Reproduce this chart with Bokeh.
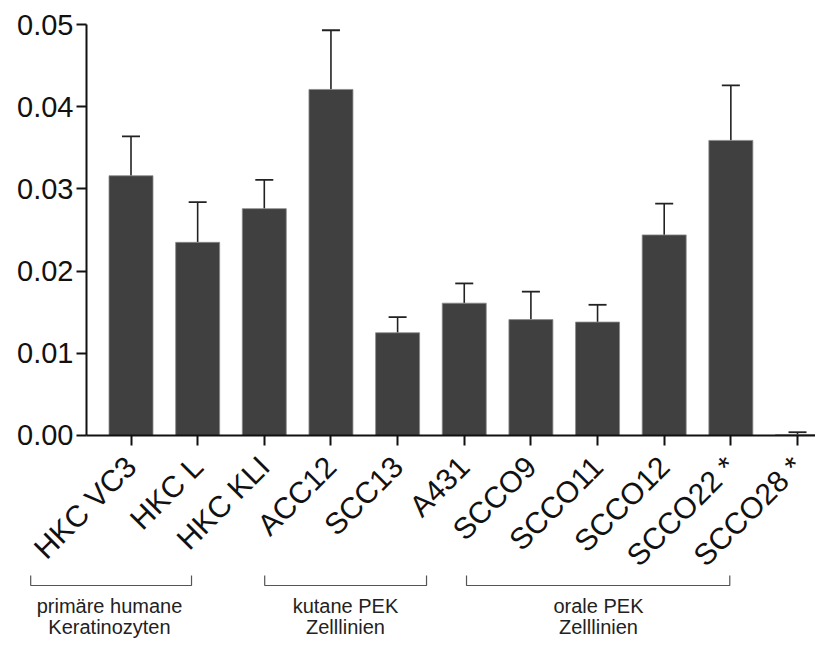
import math
from bokeh.plotting import figure
from bokeh.models import (ColumnDataSource, Range1d, FixedTicker, PrintfTickFormatter,
                          Whisker, TeeHead)
from bokeh.core.properties import value
from bokeh.embed import file_html
from bokeh.resources import INLINE

# ---- data ----
categories = ["HKC VC3", "HKC L", "HKC KLI", "ACC12", "SCC13", "A431",
              "SCCO9", "SCCO11", "SCCO12", "SCCO22 *", "SCCO28 *"]
means = [0.0316, 0.0235, 0.0276, 0.0421, 0.0125, 0.0161,
         0.0141, 0.0138, 0.0244, 0.0359, 0.0001]
errors = [0.0048, 0.0049, 0.0035, 0.0072, 0.0019, 0.0024,
          0.0034, 0.0021, 0.0038, 0.0067, 0.0003]
y_ticks = [0.0, 0.01, 0.02, 0.03, 0.04, 0.05]
group_line1 = ["primäre humane", "kutane PEK", "orale PEK"]
group_line2 = ["Keratinozyten", "Zelllinien", "Zelllinien"]

# ---- layout (positions in axis units) ----
bracket_left = [-1.505, 2.006, 5.034]
bracket_right = [0.908, 4.434, 8.984]
group_center = [-0.323, 3.218, 7.014]
bracket_top = -0.017032
bracket_bottom = -0.018248
text_y1 = -0.020803
text_y2 = -0.023358

FONT = value("Liberation Sans")

xs = list(range(len(categories)))
src = ColumnDataSource(dict(
    x=xs, mean=means,
    upper=[m + e for m, e in zip(means, errors)],
))

p = figure(width=815, height=639, output_backend="svg", toolbar_location=None,
           x_range=Range1d(-1.958, 10.270), y_range=Range1d(-0.024818, 0.052920),
           min_border=0, min_border_left=0, min_border_right=0,
           min_border_top=0, min_border_bottom=0)
p.outline_line_color = None
p.xgrid.visible = False
p.ygrid.visible = False
p.background_fill_color = "white"

p.vbar(x="x", top="mean", bottom=0, width=0.66, source=src,
       fill_color="#404040", line_color="#8a8a8a", line_width=0.8)

wh = Whisker(source=src, base="x", lower="mean", upper="upper", dimension="height",
             line_color="#222222", line_width=1.6,
             upper_head=TeeHead(size=18, line_color="#222222", line_width=1.8),
             lower_head=None)
p.add_layout(wh)

# x axis
xa = p.xaxis[0]
xa.fixed_location = 0
xa.bounds = (-0.6677, 10.39)
xa.ticker = FixedTicker(ticks=xs)
xa.major_label_overrides = {i: c for i, c in enumerate(categories)}
xa.major_label_orientation = math.pi / 4
xa.major_label_text_font = "Liberation Sans"
xa.major_label_text_font_size = "30px"
xa.major_label_text_color = "#111111"
xa.axis_line_width = 2
xa.axis_line_color = "#111111"
xa.major_tick_line_width = 2
xa.major_tick_line_color = "#111111"
xa.major_tick_in = 0
xa.major_tick_out = 10
xa.minor_tick_line_color = None
xa.major_label_standoff = 16

# y axis
ya = p.yaxis[0]
ya.fixed_location = -0.6677
ya.bounds = (0, 0.05)
ya.ticker = FixedTicker(ticks=y_ticks)
ya.formatter = PrintfTickFormatter(format="%.2f")
ya.major_label_text_font = "Liberation Sans"
ya.major_label_text_font_size = "29px"
ya.major_label_text_color = "#111111"
ya.axis_line_width = 2
ya.axis_line_color = "#111111"
ya.major_tick_line_width = 2
ya.major_tick_line_color = "#111111"
ya.major_tick_in = 0
ya.major_tick_out = 10
ya.minor_tick_line_color = None
ya.major_label_standoff = 3

# group brackets
for l, r in zip(bracket_left, bracket_right):
    p.line(x=[l, l, r, r], y=[bracket_top, bracket_bottom, bracket_bottom, bracket_top],
           line_color="#555555", line_width=1.2)

p.text(x=group_center, y=[text_y1] * 3, text=group_line1, text_font=FONT,
       text_font_size="20px", text_align="center", text_baseline="alphabetic",
       text_color="#222222")
p.text(x=group_center, y=[text_y2] * 3, text=group_line2, text_font=FONT,
       text_font_size="20px", text_align="center", text_baseline="alphabetic",
       text_color="#222222")

open("out.html", "w").write(file_html(p, INLINE))
